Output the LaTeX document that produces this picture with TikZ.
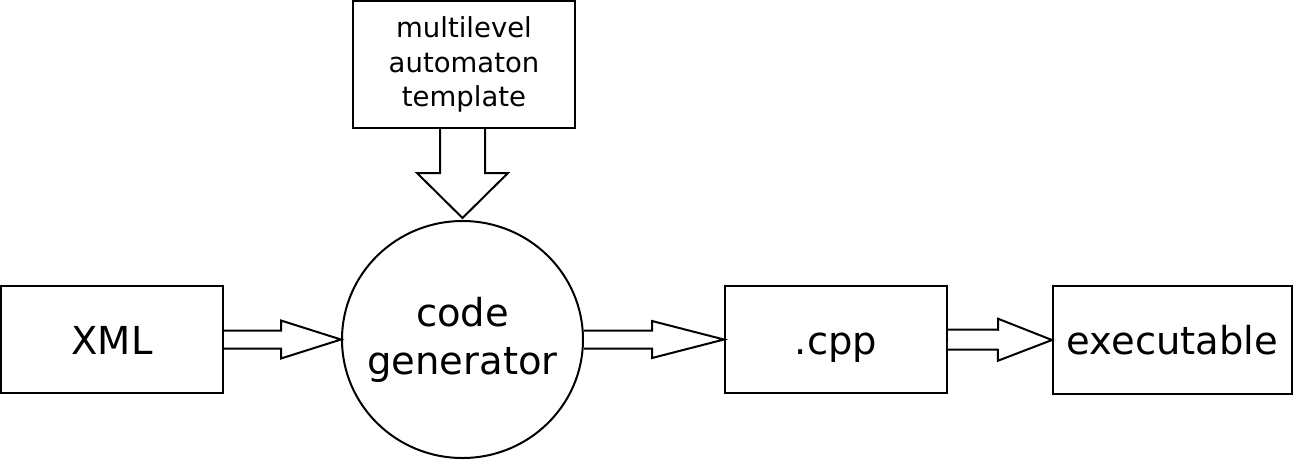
\documentclass[tikz,border=0pt]{standalone}
\usepackage{fontspec}
\setmainfont{DejaVu Sans}
\usetikzlibrary{calc,shapes.geometric}

\tikzset{
  box/.style={draw, line width=2pt, minimum width=222, minimum height=107,
    inner sep=0pt, align=center, font=\fontsize{38.5}{48}\selectfont},
  oneline/.style={box, text height=29pt, text depth=0pt},
  smallbox/.style={box, minimum height=127, font=\fontsize{27.5}{34.4}\selectfont},
  roundbox/.style={box, ellipse, minimum width=241, minimum height=237, inner xsep=-14pt},
  fatline/.style={draw, line width=2pt, fill=white}
}

% block arrow: from, to, half shaft, half head, head length
\newcommand{\fatarrow}[5]{%
  \coordinate (neck) at ($(#2)!#5!(#1)$);
  \draw[fatline] ($(#1)!#3!90:(#2)$) -- ($(neck)!#3!90:(#2)$)
    -- ($(neck)!#4!90:(#2)$) -- (#2) -- ($(neck)!#4!-90:(#2)$)
    -- ($(neck)!#3!-90:(#2)$) -- ($(#1)!#3!-90:(#2)$);
}

\begin{document}
\begin{tikzpicture}[x=1pt,y=-1pt]
\useasboundingbox (0,0) rectangle (1293,459);

\node[oneline] (xml) at (112,339.5) {XML};
\node[roundbox] (gen) at (462.5,339.5) {code\\generator};
\node[smallbox] (tmpl) at (464,64.5) {multilevel\\automaton\\template};
\node[oneline] (cpp) at (836,339.5) {.cpp};
\node[oneline, minimum width=239, minimum height=108] (exe) at (1172.5,340) {executable};

\coordinate (tmplout) at (tmpl.south -| gen.north);
\coordinate (genin) at ($(gen.north)+(0,-2)$);

\fatarrow{tmplout}{genin}{22.5pt}{45.5pt}{45pt}
\fatarrow{xml.east}{gen.west}{9pt}{19pt}{60pt}
\fatarrow{gen.east}{cpp.west}{9pt}{18.5pt}{72pt}
\fatarrow{cpp.east}{exe.west}{10pt}{21pt}{54pt}
\end{tikzpicture}
\end{document}
